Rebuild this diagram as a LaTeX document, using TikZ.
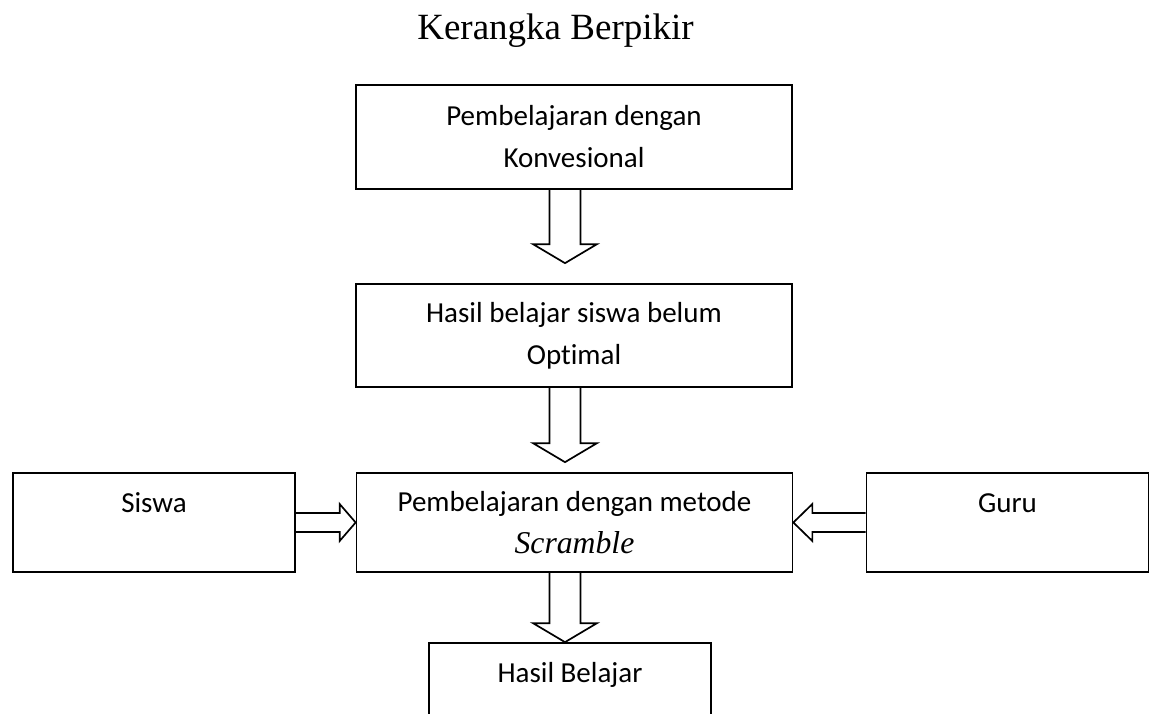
\documentclass[tikz,border=0pt]{standalone}
\usepackage{fontspec}
\setmainfont{Liberation Serif}
\newfontfamily\carlito[Ligatures=NoCommon]{Carlito}
\usetikzlibrary{calc}

\tikzset{
  kotak/.style={draw, line width=1.7pt, align=center, inner sep=0pt,
    font=\carlito\fontsize{29}{42}\selectfont},
  kotakutama/.style={kotak, minimum width=436pt},
  kotaksisi/.style={kotak, minimum width=282pt, minimum height=99pt,
    text height=20pt, text depth=41pt},
  panahbawah/.style={line width=1.7pt, to path={let \p1=(\tikztostart), \p2=(\tikztotarget) in
    (\x1-15.5pt,\y1) -- (\x1-15.5pt,\y2+19pt) -- (\x1-32pt,\y2+19pt) -- (\x1,\y2)
    -- (\x1+32pt,\y2+19pt) -- (\x1+15.5pt,\y2+19pt) -- (\x1+15.5pt,\y1)}},
  panahkanan/.style={line width=1.7pt, to path={let \p1=(\tikztostart), \p2=(\tikztotarget) in
    (\x1,\y1-9.5pt) -- (\x2-16pt,\y1-9.5pt) -- (\x2-16pt,\y1-18.5pt) -- (\x2,\y1)
    -- (\x2-16pt,\y1+18.5pt) -- (\x2-16pt,\y1+9.5pt) -- (\x1,\y1+9.5pt)}},
  panahkiri/.style={line width=1.7pt, to path={let \p1=(\tikztostart), \p2=(\tikztotarget) in
    (\x1,\y1-9.5pt) -- (\x2+19pt,\y1-9.5pt) -- (\x2+19pt,\y1-18.5pt) -- (\x2,\y1)
    -- (\x2+19pt,\y1+18.5pt) -- (\x2+19pt,\y1+9.5pt) -- (\x1,\y1+9.5pt)}},
}

\begin{document}
\begin{tikzpicture}[x=1pt, y=-1pt]
  \clip (0,0) rectangle (1156,714);

  \node[font=\fontsize{37}{44}\selectfont, anchor=base] (judul) at (555.5,40) {Kerangka Berpikir};

  \node[kotakutama, minimum height=104pt] (konvensional) at (574,137) {Pembelajaran dengan\\Konvesional};
  \node[kotakutama, minimum height=103pt] (hasilawal) at (574,335.5) {Hasil belajar siswa belum\\Optimal};
  \node[kotakutama, minimum height=99pt] (scramble) at (574.5,522.5)
    {Pembelajaran dengan metode\\{\rmfamily\itshape\fontsize{31.7}{42}\selectfont Scramble}};

  \node[kotaksisi] (siswa) at (154,522.5) {Siswa};
  \node[kotaksisi] (guru) at (1007.5,522.5) {Guru};
  \node[kotaksisi] (hasil) at (570,692.5) {Hasil Belajar};

  % panah
  \draw[panahbawah] ([xshift=-9pt]konvensional.south) to ([xshift=-9pt,yshift=20pt]hasilawal.north);
  \draw[panahbawah] ([xshift=-9pt]hasilawal.south) to ([xshift=-9pt,yshift=10pt]scramble.north);
  \draw[panahbawah] ([xshift=-9.5pt]scramble.south) to ([xshift=-4.5pt]hasil.north);
  \draw[panahkanan] (siswa.east) to (scramble.west);
  \draw[panahkiri] (guru.west) to (scramble.east);
\end{tikzpicture}
\end{document}
